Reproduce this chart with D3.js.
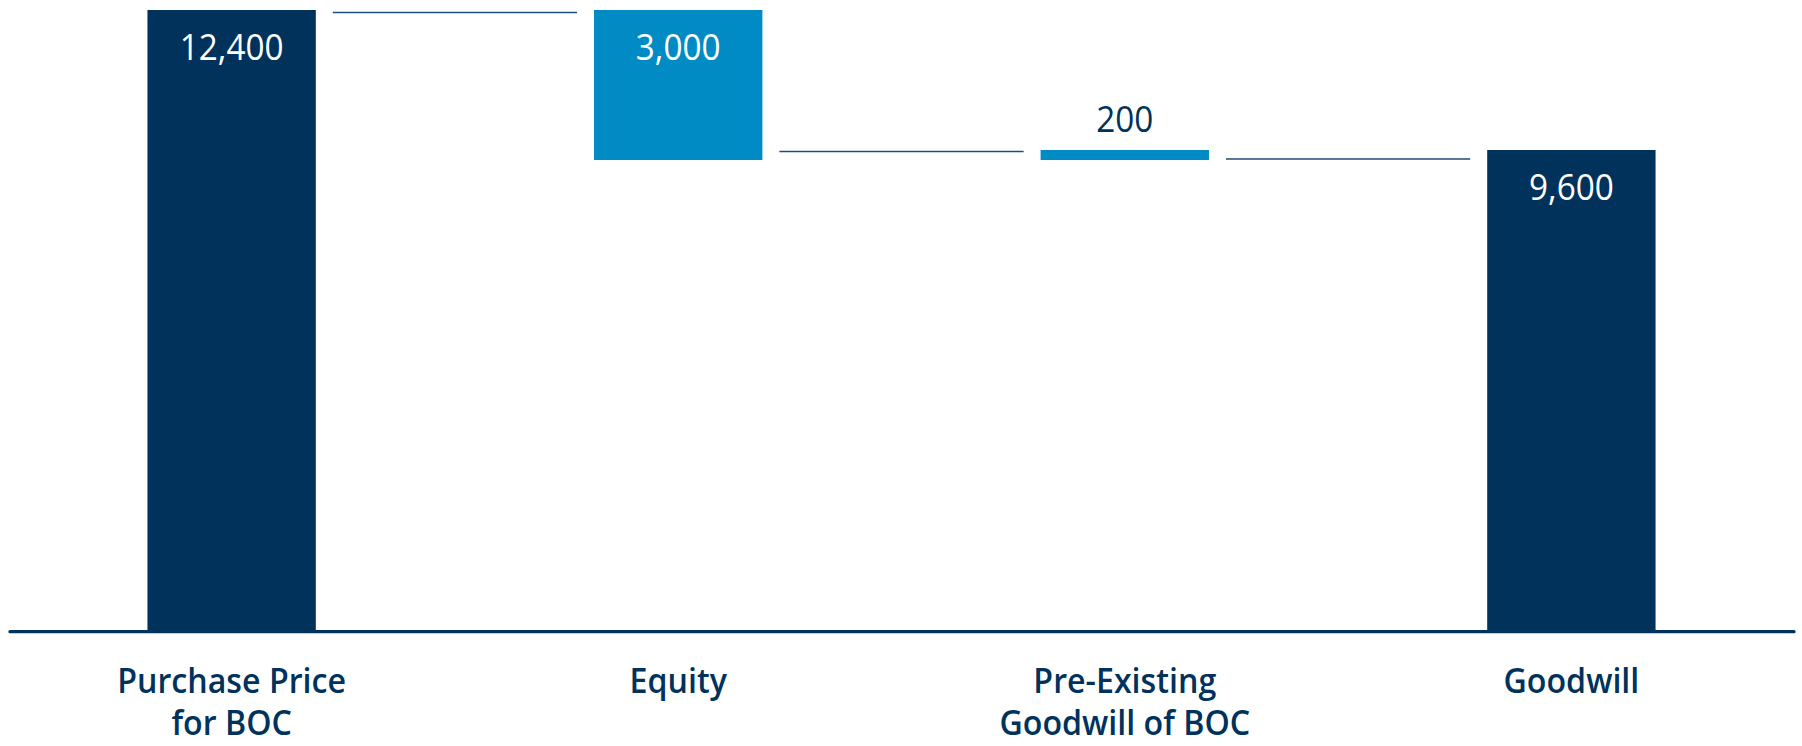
<!DOCTYPE html>
<html>
<head>
<meta charset="utf-8">
<script src="https://cdn.jsdelivr.net/npm/d3@7"></script>
<style>
  html, body { margin: 0; padding: 0; background: #ffffff; }
  svg { display: block; }
</style>
</head>
<body>
<svg id="chart" width="1802" height="746"></svg>
<script>
// Goodwill bridge: purchase price less equity plus pre-existing goodwill
const categories = [
  ["Purchase Price", "for BOC"],
  ["Equity"],
  ["Pre-Existing", "Goodwill of BOC"],
  ["Goodwill"]
];
const values = [12400, -3000, 200, 9600];
const kinds = ["total", "step", "step", "total"];
// levels of the thin bridge lines between neighbouring bars
const connectorLevels = [12350, 9570, 9420];

const NAVY = "#00325c";
const BLUE = "#008bc4";

const svg = d3.select("#chart");

// running totals for the waterfall
let running = 0;
const bars = values.map((v, i) => {
  let y0, y1;
  if (kinds[i] === "total") { y0 = 0; y1 = v; running = v; }
  else { y0 = running; y1 = running + v; running = y1; }
  return { key: categories[i].join(" "), lines: categories[i], value: v, kind: kinds[i],
           lo: Math.min(y0, y1), hi: Math.max(y0, y1) };
});

const x = d3.scaleBand()
  .domain(bars.map(d => d.key))
  .range([9, 1794])
  .paddingInner(0.623)
  .paddingOuter(0.31);

const y = d3.scaleLinear()
  .domain([0, 12400])
  .range([630, 10]);

const cx = d => x(d.key) + x.bandwidth() / 2;

// bars
svg.append("g")
  .selectAll("rect")
  .data(bars)
  .join("rect")
  .attr("x", d => x(d.key))
  .attr("width", x.bandwidth())
  .attr("y", d => y(d.hi))
  .attr("height", d => Math.max(6, y(d.lo) - y(d.hi)))
  .attr("fill", d => d.kind === "total" ? NAVY : BLUE);

// bridge lines
const gap = 17;
svg.append("g")
  .selectAll("line")
  .data(connectorLevels)
  .join("line")
  .attr("x1", (d, i) => x(bars[i].key) + x.bandwidth() + gap)
  .attr("x2", (d, i) => x(bars[i + 1].key) - gap)
  .attr("y1", d => y(d))
  .attr("y2", d => y(d))
  .attr("stroke", "#1f4b78")
  .attr("stroke-width", 1.4);

// value labels: inside the bar when it is tall enough, otherwise above it
const fmt = d3.format(",");
const inside = d => (y(d.lo) - y(d.hi)) > 60;
svg.append("g")
  .selectAll("text")
  .data(bars)
  .join("text")
  .attr("transform", d => `translate(${cx(d)},${inside(d) ? y(d.hi) + 50 : y(d.hi) - 18}) scale(0.9,1)`)
  .attr("text-anchor", "middle")
  .attr("font-family", "'Open Sans', 'DejaVu Sans Condensed', sans-serif")
  .attr("font-size", 37)
  .attr("fill", d => inside(d) ? "#ffffff" : NAVY)
  .text(d => fmt(Math.abs(d.value)));

// baseline
svg.append("line")
  .attr("x1", x.range()[0] + 1)
  .attr("x2", x.range()[1])
  .attr("y1", y(0) + 1.7)
  .attr("y2", y(0) + 1.7)
  .attr("stroke", NAVY)
  .attr("stroke-width", 3.3)
  .attr("stroke-linecap", "round");

// category labels, one text per line, set in a narrowed semibold face
const labelLines = bars.flatMap(d => d.lines.map((t, i) => ({ t, i, cx: cx(d) })));
svg.append("g")
  .selectAll("text")
  .data(labelLines)
  .join("text")
  .attr("transform", d => `translate(${d.cx},${693 + d.i * 42}) scale(0.92,1)`)
  .attr("text-anchor", "middle")
  .attr("font-family", "'Open Sans', 'DejaVu Sans Condensed', sans-serif")
  .attr("font-weight", 600)
  .attr("font-size", 35)
  .attr("fill", NAVY)
  .text(d => d.t);
</script>
</body>
</html>
